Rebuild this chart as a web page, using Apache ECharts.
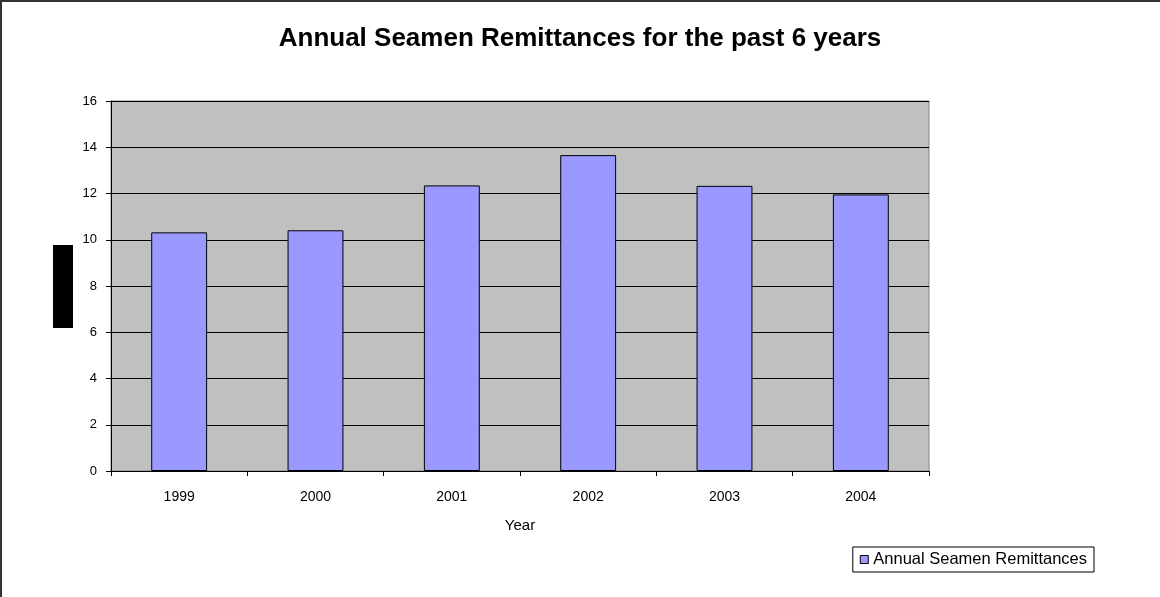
<!DOCTYPE html>
<html>
<head>
<meta charset="utf-8">
<style>
  html, body { margin: 0; padding: 0; background: #fff; }
  #chart { width: 1160px; height: 597px; }
</style>
<script src="https://cdn.jsdelivr.net/npm/echarts@6/dist/echarts.min.js"></script>
</head>
<body>
<div id="chart"></div>
<script>
// Years on the category axis
const years = ['1999', '2000', '2001', '2002', '2003', '2004'];
// Annual seamen remittances per year
const remittances = [10.32, 10.41, 12.35, 13.66, 12.33, 11.96];
// Value axis range
const yMin = 0;
const yMax = 16;
const yStep = 2;

const FONT = 'Liberation Sans, Arial, sans-serif';
const plot = { left: 111, top: 101, right: 231, bottom: 126 };

const chart = echarts.init(document.getElementById('chart'), null, { renderer: 'canvas' });

chart.setOption({
  animation: false,
  backgroundColor: '#ffffff',
  title: {
    text: 'Annual Seamen Remittances for the past 6 years',
    left: 'center',
    top: 21,
    textStyle: { fontFamily: FONT, fontSize: 26, fontWeight: 'bold', color: '#000' }
  },
  legend: {
    data: ['Annual Seamen Remittances'],
    right: 66,
    top: 547,
    orient: 'horizontal',
    icon: 'rect',
    itemWidth: 8,
    itemHeight: 8,
    itemGap: 4,
    padding: [4, 7, 4, 7],
    borderColor: '#000',
    borderWidth: 1,
    backgroundColor: '#fff',
    textStyle: { fontFamily: FONT, fontSize: 16.5, color: '#000' },
    itemStyle: { borderColor: '#000', borderWidth: 1 }
  },
  grid: {
    left: plot.left,
    top: plot.top,
    right: plot.right,
    bottom: plot.bottom,
    show: true,
    backgroundColor: '#c0c0c0',
    borderColor: '#808080',
    borderWidth: 1
  },
  xAxis: {
    type: 'category',
    data: years,
    boundaryGap: true,
    name: 'Year',
    nameLocation: 'middle',
    nameGap: 47,
    nameTextStyle: { fontFamily: FONT, fontSize: 15, color: '#000', verticalAlign: 'top' },
    axisLine: { show: true, lineStyle: { color: '#000', width: 1 } },
    axisTick: { show: true, interval: 0, length: 5, lineStyle: { color: '#000' } },
    axisLabel: { fontFamily: FONT, fontSize: 14, color: '#000', margin: 19 },
    splitLine: { show: false }
  },
  yAxis: {
    type: 'value',
    min: yMin,
    max: yMax,
    interval: yStep,
    axisLine: { show: true, lineStyle: { color: '#000', width: 1 } },
    axisTick: { show: true, inside: false, length: 5, lineStyle: { color: '#000' } },
    axisLabel: { fontFamily: FONT, fontSize: 13, color: '#000', margin: 14 },
    splitLine: { show: true, lineStyle: { color: '#000', width: 1 } }
  },
  series: [{
    name: 'Annual Seamen Remittances',
    type: 'bar',
    data: remittances,
    barWidth: '41%',
    itemStyle: { color: '#9999ff', borderColor: '#000', borderWidth: 1 }
  }],
  graphic: [
    {
      // outer chart frame
      type: 'rect',
      shape: { x: 1, y: 1, width: 1200, height: 700 },
      style: { fill: null, stroke: '#333', lineWidth: 2 },
      silent: true
    },
    {
      // blacked-out vertical axis title block
      type: 'rect',
      shape: { x: 53, y: 245, width: 20, height: 83 },
      style: { fill: '#000' },
      silent: true
    }
  ]
});
</script>
</body>
</html>
